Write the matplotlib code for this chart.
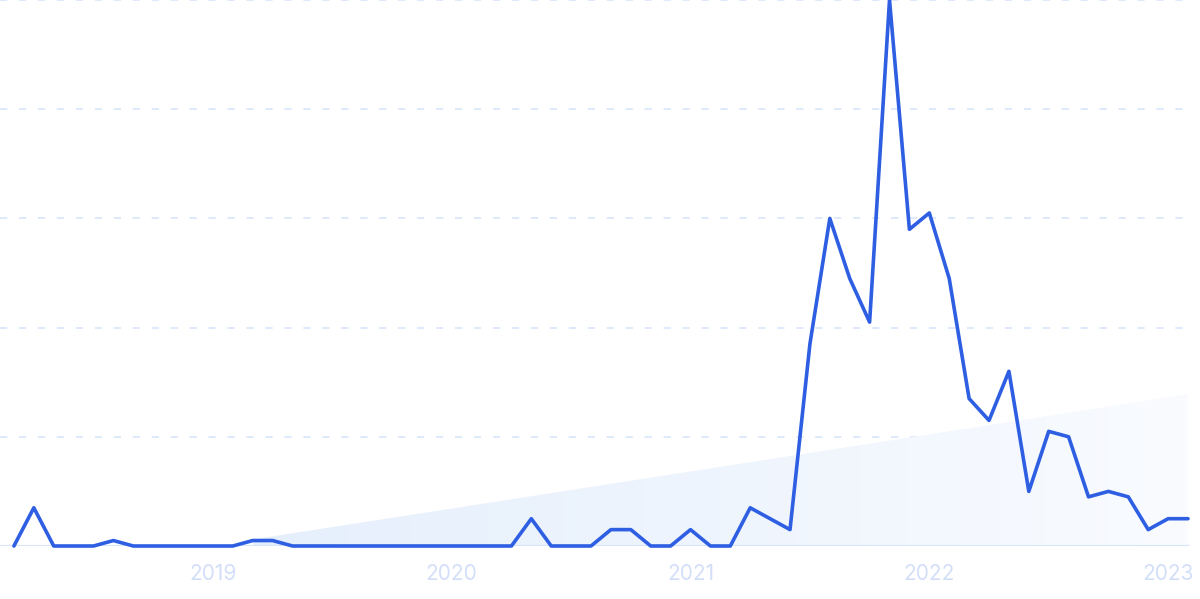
import numpy as np
import pandas as pd
import matplotlib
matplotlib.use("Agg")
import matplotlib.pyplot as plt
from matplotlib.colors import LinearSegmentedColormap

# monthly interest, Mar 2018 .. Feb 2023
months = pd.date_range("2018-03-01", "2023-02-01", freq="MS")
values = [0, 7, 0, 0, 0, 1, 0, 0, 0, 0,
          0, 0, 1, 1, 0, 0, 0, 0, 0, 0,
          0, 0, 0, 0, 0, 0, 5, 0, 0, 0,
          3, 3, 0, 0, 3, 0, 0, 7, 5, 3,
          37, 60, 49, 41, 100, 58, 61, 49, 27, 23,
          32, 10, 21, 20, 9, 10, 9, 3, 5, 5]
year_labels = ["2019", "2020", "2021", "2022", "2023"]

# trend band (start/end index and value)
trend_idx = [12, 59]
trend_val = [1.2, 27.8]

x = np.arange(len(months))
year_pos = [i for i, m in enumerate(months) if m.month == 1]

fig = plt.figure(figsize=(12, 5.99), dpi=100)
ax = fig.add_axes([0, 53 / 599, 1190 / 1200, 546 / 599])

# gradient trend band
tx = np.arange(trend_idx[0], trend_idx[1] + 1)
ty = np.interp(tx, trend_idx, trend_val)
band = ax.fill_between(tx, 0, ty, color="none", lw=0)
cmap = LinearSegmentedColormap.from_list("g", ["#e5effc", "#f9fbff"])
grad = np.linspace(0, 1, 256).reshape(1, -1)
img = ax.imshow(grad, cmap=cmap, aspect="auto",
                extent=[trend_idx[0], trend_idx[1], 0, max(trend_val)],
                origin="lower", zorder=1)
img.set_clip_path(band.get_paths()[0], transform=ax.transData)

# grid
for gy in [20, 40, 60, 80, 100]:
    ax.axhline(gy, color="#dce7fc", lw=1.3, ls=(0, (4, 6.5)), zorder=0)
ax.axhline(0, color="#d6e6fa", lw=1.5, zorder=2)

ax.plot(x, values, color="#2e5fe3", lw=2.6, solid_joinstyle="round",
        solid_capstyle="round", zorder=3, clip_on=False)

ax.set_xlim(-0.7, 59.1)
ax.set_ylim(0, 100)
ax.set_xticks(year_pos)
ax.set_xticklabels(year_labels, fontsize=15, color="#d3def8", family="Inter")
ax.tick_params(axis="x", length=0, pad=13)
ax.set_yticks([])
for s in ax.spines.values():
    s.set_visible(False)

fig.savefig("out.png", dpi=100)
